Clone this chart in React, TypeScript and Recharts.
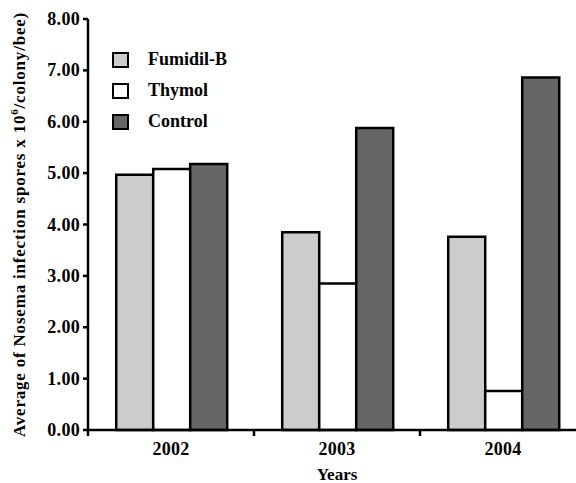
import React from 'react';
import { BarChart, Bar, XAxis, YAxis } from 'recharts';

const years = ['2002', '2003', '2004'];
const fumidil = [4.97, 3.85, 3.76];
const thymol = [5.08, 2.85, 0.76];
const control = [5.18, 5.88, 6.86];
const yTicks = [0, 1, 2, 3, 4, 5, 6, 7, 8];

const series = [
  { key: 'Fumidil-B', color: '#cccccc' },
  { key: 'Thymol', color: '#ffffff' },
  { key: 'Control', color: '#666666' },
];

const data = years.map((y, i) => ({
  year: y,
  'Fumidil-B': fumidil[i],
  Thymol: thymol[i],
  Control: control[i],
}));

const FONT = "'Liberation Serif', 'Times New Roman', Times, 'DejaVu Serif', serif";
const TICK_SIZE = 6;
const TICK_MARGIN = 6;

const XTick = (props: any) => {
  const { x, y, payload } = props;
  const off = payload && payload.offset ? payload.offset : 83;
  const axisY = y - TICK_SIZE - TICK_MARGIN;
  return (
    <g>
      <line x1={x - off} x2={x - off} y1={axisY} y2={axisY + TICK_SIZE} stroke="#000" strokeWidth={2.5} />
      <text x={x} y={y} dy={13} textAnchor="middle" style={{ fontFamily: FONT, fontWeight: 700, fontSize: 18, letterSpacing: 0.3 }} fill="#000">
        {payload.value}
      </text>
    </g>
  );
};

const YTick = (props: any) => {
  const { x, y, payload } = props;
  return (
    <text x={x} y={y} dy={6} textAnchor="end" style={{ fontFamily: FONT, fontWeight: 700, fontSize: 18, letterSpacing: 0.3 }} fill="#000">
      {Number(payload.value).toFixed(2)}
    </text>
  );
};

const YLabel = (props: any) => {
  const vb = props.viewBox || { x: 0, y: 18, width: 88, height: 412 };
  const cx = 25;
  const cy = vb.y + vb.height / 2;
  return (
    <text transform={`translate(${cx},${cy}) rotate(-90)`} textAnchor="middle" style={{ fontFamily: FONT, fontWeight: 700, fontSize: 17, letterSpacing: 0.8 }} fill="#000">
      <tspan>Average of Nosema infection spores x 10</tspan>
      <tspan dy={-7} style={{ fontSize: 11 }}>6</tspan>
      <tspan dy={7}>/colony/bee)</tspan>
    </text>
  );
};

const LegendBox = () => (
  <div style={{ position: 'absolute', left: 112, top: 44, fontFamily: FONT, fontWeight: 700, fontSize: 18, color: '#000' }}>
    {series.map((s) => (
      <div key={s.key} style={{ display: 'flex', alignItems: 'center', height: 31 }}>
        <span style={{ display: 'inline-block', width: 13, height: 12, background: s.color, border: '2px solid #000', marginRight: 19 }} />
        <span>{s.key}</span>
      </div>
    ))}
  </div>
);

export default function App() {
  return (
    <div style={{ position: 'absolute', left: 0, top: 0, width: 576, height: 483, overflow: 'hidden', background: '#fff' }}>
      <BarChart
        width={600}
        height={483}
        data={data}
        margin={{ top: 19, right: 14, bottom: 0, left: 0 }}
        barCategoryGap="17%"
        barGap={0}
      >
        <XAxis
          dataKey="year"
          height={53}
          axisLine={{ stroke: '#000', strokeWidth: 2.5 }}
          tickLine={false}
          tickSize={TICK_SIZE}
          tickMargin={TICK_MARGIN}
          tick={<XTick />}
          interval={0}
          label={{ value: 'Years', position: 'insideBottom', offset: 3, style: { fontFamily: FONT, fontWeight: 700, fontSize: 17, fill: '#000' } }}
        />
        <YAxis
          width={88}
          domain={[0, 8]}
          ticks={yTicks}
          interval={0}
          axisLine={{ stroke: '#000', strokeWidth: 2.5 }}
          tickLine={{ stroke: '#000', strokeWidth: 2.5 }}
          tickSize={5}
          tickMargin={3}
          tick={<YTick />}
          label={<YLabel />}
        />
        {series.map((s) => (
          <Bar key={s.key} dataKey={s.key} fill={s.color} stroke="#000" strokeWidth={2.5} isAnimationActive={false} />
        ))}
      </BarChart>
      <LegendBox />
    </div>
  );
}
